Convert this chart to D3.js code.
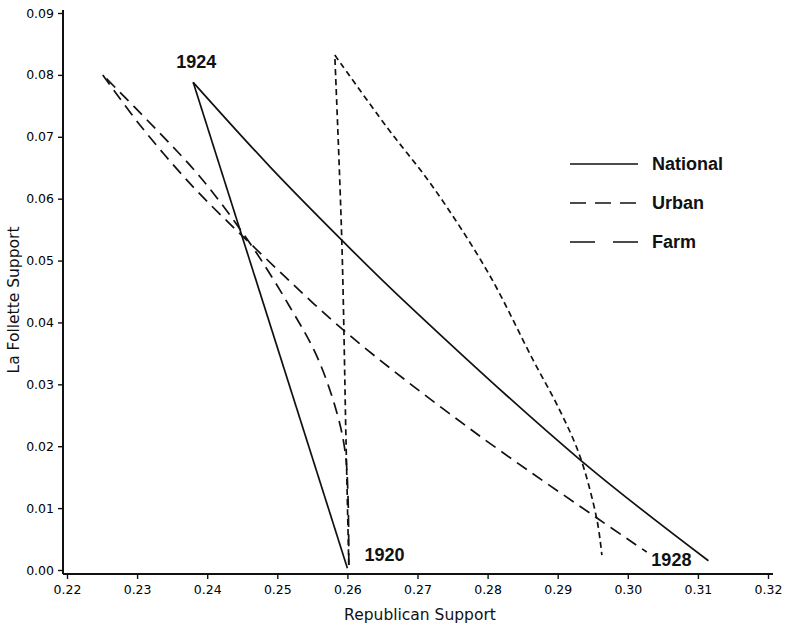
<!DOCTYPE html>
<html>
<head>
<meta charset="utf-8">
<script src="https://cdn.jsdelivr.net/npm/d3@7"></script>
<style>
  body { margin: 0; background: #fff; }
  .tick text { font-family: "DejaVu Sans", sans-serif; font-size: 12.5px; fill: #000; }
  .tick line { stroke: #111; stroke-width: 1.4; }
  .axisTitle { font-family: "DejaVu Sans", sans-serif; font-size: 15.5px; fill: #111; }
  .yearLabel, .legendText { font-family: "Liberation Sans", Arial, sans-serif; font-weight: bold; font-size: 18px; fill: #111; }
</style>
</head>
<body>
<div id="chart"></div>
<script>
var width = 785;
var height = 626;

// tick labels
var xTicks = [0.22, 0.23, 0.24, 0.25, 0.26, 0.27, 0.28, 0.29, 0.30, 0.31, 0.32];
var yTicks = [0.00, 0.01, 0.02, 0.03, 0.04, 0.05, 0.06, 0.07, 0.08, 0.09];

var seriesNames = ["National", "Urban", "Farm"];

// each series: leg from 1920 to 1924, then leg from 1924 to 1928 [republican, la follette]
var nationalLeg1 = [[0.2600, 0.0003], [0.2380, 0.0788]];
var nationalLeg2 = [[0.2380, 0.0788], [0.2490, 0.0651], [0.2592, 0.0533], [0.2675, 0.0441],
                    [0.2932, 0.0178], [0.3115, 0.0015]];

var urbanLeg1 = [[0.2602, 0.0008], [0.2598, 0.0210], [0.2592, 0.0533], [0.2582, 0.0832]];
var urbanLeg2 = [[0.2582, 0.0832], [0.2656, 0.0716], [0.2722, 0.0619], [0.2801, 0.0480],
                 [0.2865, 0.0339], [0.2903, 0.0258], [0.2932, 0.0183], [0.2956, 0.0081],
                 [0.2963, 0.0024]];

var farmLeg1 = [[0.2602, 0.0008], [0.2601, 0.0113], [0.2597, 0.0189], [0.2585, 0.0254],
                [0.2557, 0.0344], [0.2518, 0.0425], [0.2461, 0.0528], [0.2390, 0.0635],
                [0.2328, 0.0711], [0.2251, 0.0800]];
var farmLeg2 = [[0.2251, 0.0800], [0.2304, 0.0719], [0.2375, 0.0625], [0.2437, 0.0554],
                [0.2461, 0.0528], [0.2594, 0.0388], [0.2775, 0.0228],
                [0.2956, 0.0084], [0.3027, 0.0029]];

var years = ["1920", "1924", "1928"];

var DASH = { "National": null, "Urban": "6,4", "Farm": "12,7" };
var LEGEND_DASH = { "National": null, "Urban": "16,9", "Farm": "25,18" };

var legs = [
  { name: "National", pts: nationalLeg1 }, { name: "National", pts: nationalLeg2 },
  { name: "Urban", pts: urbanLeg1 }, { name: "Urban", pts: urbanLeg2 },
  { name: "Farm", pts: farmLeg1 }, { name: "Farm", pts: farmLeg2 }
];

var x = d3.scaleLinear().domain([0.22, 0.32]).range([67, 768]);
var y = d3.scaleLinear().domain([0, 0.09]).range([570, 13]);

var svg = d3.select("#chart").append("svg")
  .attr("width", width)
  .attr("height", height)

var fmt = d3.format(".2f")

var xAxis = svg.append("g")
  .attr("transform", "translate(0,574)")
  .call(d3.axisBottom(x).tickValues(xTicks).tickFormat(fmt).tickSize(5).tickPadding(6))
xAxis.select(".domain").remove()

var yAxis = svg.append("g")
  .attr("transform", "translate(63,0)")
  .call(d3.axisLeft(y).tickValues(yTicks).tickFormat(fmt).tickSize(5).tickPadding(4))
yAxis.select(".domain").remove()

// axis lines (slightly offset from the data origin, as in the original)
svg.append("line")
  .attr("x1", 63).attr("x2", 773).attr("y1", 574).attr("y2", 574)
  .attr("stroke", "#111").attr("stroke-width", 2)
svg.append("line")
  .attr("x1", 63).attr("x2", 63).attr("y1", 10).attr("y2", 574)
  .attr("stroke", "#111").attr("stroke-width", 2)

svg.append("text")
  .attr("class", "axisTitle")
  .attr("x", 420)
  .attr("y", 620)
  .attr("text-anchor", "middle")
  .text("Republican Support")

svg.append("text")
  .attr("class", "axisTitle")
  .attr("transform", "translate(19,300) rotate(-90)")
  .attr("text-anchor", "middle")
  .text("La Follette Support")

var line = d3.line()
  .x(function(d){ return x(d[0]) })
  .y(function(d){ return y(d[1]) })
  .curve(d3.curveCatmullRom.alpha(0.5))

svg.append("g").selectAll("path")
  .data(legs)
  .enter().append("path")
    .attr("d", function(d){ return line(d.pts) })
    .attr("fill", "none")
    .attr("stroke", "#111")
    .attr("stroke-width", 1.7)
    .attr("stroke-dasharray", function(d){ return DASH[d.name] })

// year labels
svg.append("text").attr("class", "yearLabel")
  .attr("x", x(nationalLeg1[1][0]) + 3)
  .attr("y", y(nationalLeg1[1][1]) - 14)
  .attr("text-anchor", "middle")
  .text(years[1])
svg.append("text").attr("class", "yearLabel")
  .attr("x", x(nationalLeg1[0][0]) + 17)
  .attr("y", y(nationalLeg1[0][1]) - 7)
  .text(years[0])
svg.append("text").attr("class", "yearLabel")
  .attr("x", x(nationalLeg2[nationalLeg2.length - 1][0]) - 17)
  .attr("y", y(nationalLeg2[nationalLeg2.length - 1][1]) + 5)
  .attr("text-anchor", "end")
  .text(years[2])

// legend
var legend = svg.append("g").attr("transform", "translate(570,164)")
seriesNames.forEach(function(name, i){
  legend.append("line")
    .attr("x1", 0).attr("x2", 68)
    .attr("y1", i * 39).attr("y2", i * 39)
    .attr("stroke", "#111")
    .attr("stroke-width", 1.6)
    .attr("stroke-dasharray", LEGEND_DASH[name])
  legend.append("text")
    .attr("class", "legendText")
    .attr("x", 82)
    .attr("y", i * 39)
    .attr("dy", "0.35em")
    .text(name)
})
</script>
</body>
</html>
